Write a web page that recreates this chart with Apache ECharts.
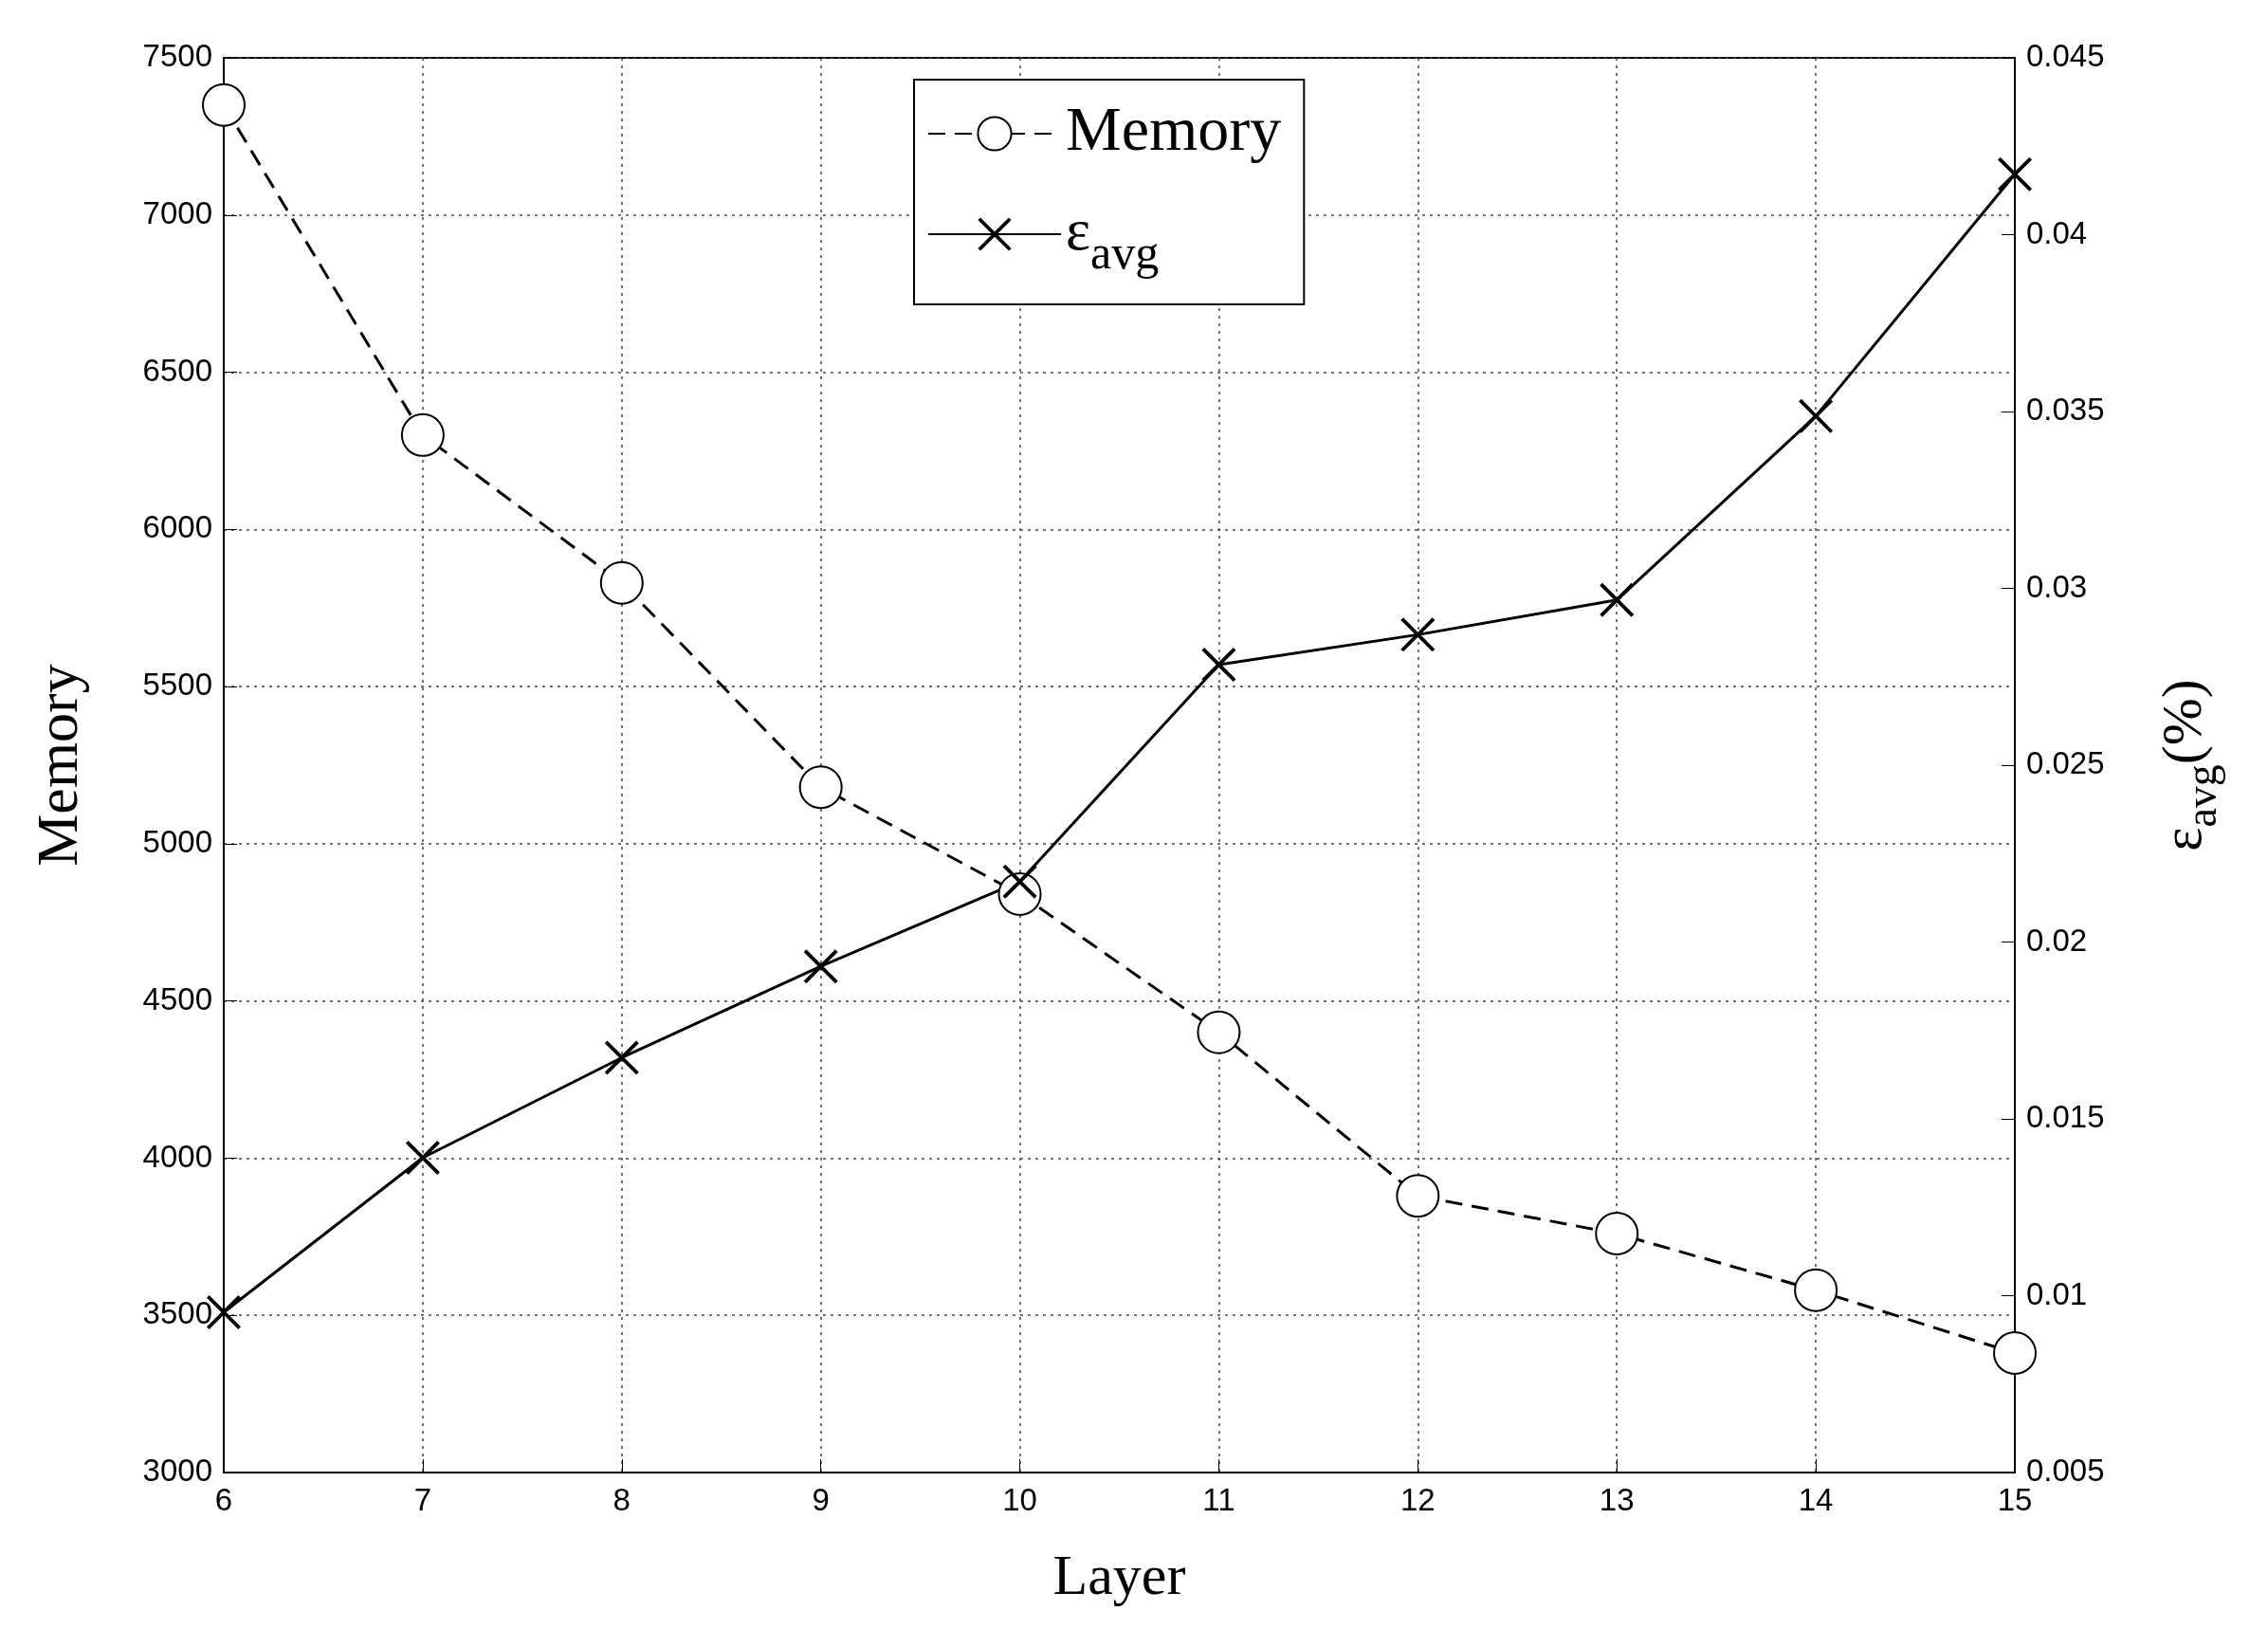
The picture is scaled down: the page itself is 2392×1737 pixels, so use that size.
<!DOCTYPE html>
<html><head><meta charset="utf-8">
<script src="https://cdn.jsdelivr.net/npm/echarts@6/dist/echarts.min.js"></script>
<style>html,body{margin:0;background:#fff}#c{width:2392px;height:1737px}</style>
</head><body><div id="c"></div>
<script>
const layers = [6,7,8,9,10,11,12,13,14,15];
const memory = [7350,6300,5830,5180,4840,4400,3880,3760,3580,3380];
const epsAvg = [0.00953,0.0139,0.01673,0.01931,0.02171,0.02784,0.02869,0.02967,0.03487,0.04171];
const xPath = 'path://M0,1.5L1.5,0L10,8.5L18.5,0L20,1.5L11.5,10L20,18.5L18.5,20L10,11.5L1.5,20L0,18.5L8.5,10Z';
const chart = echarts.init(document.getElementById('c'));
const tickFont = {fontFamily:'Liberation Sans',fontSize:33,color:'#000'};
const grid = {show:true,lineStyle:{type:[3,5],color:'#444',width:1.5}};
chart.setOption({
  animation:false,
  backgroundColor:'#fff',
  grid:{left:236,right:267,top:61,bottom:184,show:true,borderColor:'#000',borderWidth:2,backgroundColor:'#fff'},
  legend:{
    left:964, top:84, orient:'vertical', itemWidth:140, itemHeight:44, itemGap:42,
    padding:[24,24,26,14], backgroundColor:'#fff', borderColor:'#000', borderWidth:2,
    textStyle:{fontFamily:'Liberation Serif',fontSize:66,color:'#000',
      rich:{e:{fontFamily:'Liberation Serif',fontSize:62,color:'#000'},s:{fontFamily:'Liberation Serif',fontSize:50,color:'#000',verticalAlign:'bottom',padding:[46,0,0,0]}}},
    formatter:n=> n==='Memory' ? 'Memory' : '{e|ε}{s|avg}',
    data:['Memory','eps']
  },
  xAxis:{type:'value',min:6,max:15,interval:1,
    name:'Layer',nameLocation:'middle',nameGap:82,
    nameTextStyle:{fontFamily:'Liberation Serif',fontSize:60,color:'#000'},
    axisLine:{lineStyle:{color:'#000',width:2}},axisTick:{inside:true,length:14,lineStyle:{color:'#000'}},
    axisLabel:Object.assign({margin:14},tickFont),
    splitLine:grid},
  yAxis:[{type:'value',min:3000,max:7500,interval:500,
    name:'Memory',nameLocation:'middle',nameGap:140,nameRotate:90,
    nameTextStyle:{fontFamily:'Liberation Serif',fontSize:62,color:'#000'},
    axisLine:{show:true,lineStyle:{color:'#000',width:2}},axisTick:{inside:true,length:14,lineStyle:{color:'#000'}},
    axisLabel:Object.assign({margin:12,formatter:v=>String(v)},tickFont),
    splitLine:grid},
   {type:'value',min:0.005,max:0.045,interval:0.005,position:'right',
    name:'{e|ε}{s|avg}{e|(%)}',nameLocation:'middle',nameGap:150,nameRotate:90,
    nameTextStyle:{rich:{e:{fontFamily:'Liberation Serif',fontSize:60,color:'#000'},s:{fontFamily:'Liberation Serif',fontSize:46,color:'#000',padding:[0,0,-40,0]}}},
    axisLine:{show:true,lineStyle:{color:'#000',width:2}},axisTick:{inside:true,length:14,lineStyle:{color:'#000'}},
    axisLabel:Object.assign({margin:12,formatter:v=>String(+v.toFixed(3))},tickFont),
    splitLine:{show:false}}],
  series:[
    {name:'Memory',type:'line',yAxisIndex:0,data:layers.map((x,i)=>[x,memory[i]]),
     symbol:'emptyCircle',symbolSize:44,
     lineStyle:{color:'#000',width:3,type:[18,10]},
     itemStyle:{color:'#000',borderColor:'#000',borderWidth:3}},
    {name:'eps',type:'line',yAxisIndex:1,data:layers.map((x,i)=>[x,epsAvg[i]]),
     symbol:xPath,symbolSize:36,
     lineStyle:{color:'#000',width:3},
     itemStyle:{color:'#000'}}
  ]
});
</script></body></html>
